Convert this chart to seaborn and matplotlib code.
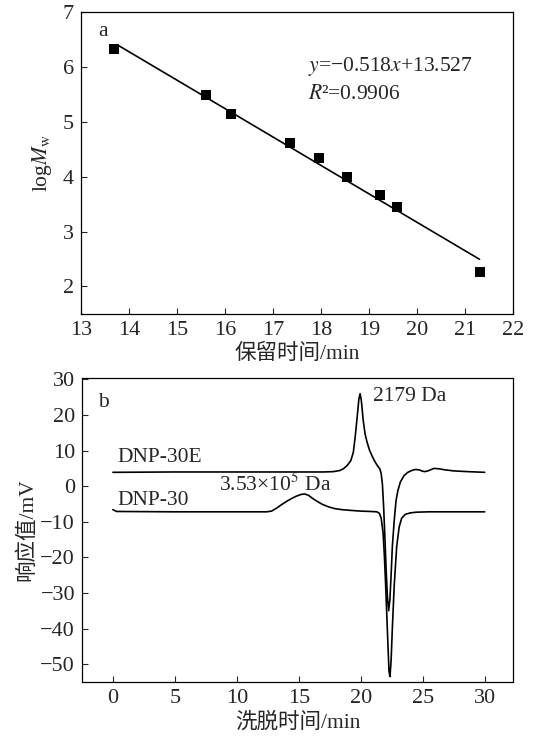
import numpy as np
import pandas as pd
import matplotlib
matplotlib.use("Agg")
import matplotlib.pyplot as plt
import seaborn as sns

sns.set_theme(style="ticks")
plt.rcParams['font.family'] = ['Liberation Serif', 'Noto Sans CJK SC']
plt.rcParams['mathtext.fontset'] = 'stix'
plt.rcParams['axes.unicode_minus'] = True

# Panel a: calibration
ret_time = [13.70, 15.60, 16.12, 17.35, 17.95, 18.55, 19.22, 19.58, 21.30]
log_mw = [6.32, 5.49, 5.14, 4.62, 4.34, 4.00, 3.67, 3.44, 2.26]
slope, intercept = -0.518, 13.527
fit_x = [13.75, 21.30]

# Panel b: chromatograms
t_30e = [0, 5, 10, 15, 17.0, 17.8, 18.3, 18.6, 18.9, 19.2, 19.4, 19.55, 19.7, 19.85, 19.95,
         20.05, 20.2, 20.35, 20.5, 20.7, 20.9, 21.1, 21.3, 21.45, 21.55, 21.65, 21.75, 21.85,
         21.95, 22.05, 22.15, 22.25, 22.35, 22.45, 22.55, 22.7, 22.85, 23.0, 23.2, 23.5, 23.8,
         24.1, 24.4, 24.7, 25.0, 25.2, 25.5, 25.9, 26.3, 26.8, 27.5, 28.6, 30]
v_30e = [3.9, 4.0, 4.0, 4.0, 4.0, 4.1, 4.4, 4.9, 5.8, 7.2, 9.5, 13.8, 19.0, 24.5, 26.0,
         24.0, 18.5, 14.7, 12.5, 10.2, 8.6, 7.2, 6.0, 5.3, 4.8, 3.5, 0.5, -6.0,
         -14.5, -23.5, -31.0, -35.0, -32.0, -25.0, -17.0, -9.7, -4.0, -1.2, 1.2, 3.0, 3.9,
         4.4, 4.7, 4.6, 4.2, 4.1, 4.4, 5.0, 4.9, 4.6, 4.3, 4.1, 3.9]

t_30 = [0, 0.3, 5, 10, 12.4, 12.8, 13.2, 13.6, 14.0, 14.4, 14.8, 15.2, 15.5, 15.8, 16.1, 16.5,
        16.9, 17.4, 17.9, 18.5, 19.2, 20.0, 20.8, 21.3, 21.5, 21.65, 21.8, 21.9, 22.0, 22.1,
        22.2, 22.28, 22.36, 22.45, 22.55, 22.7, 22.9, 23.1, 23.3, 23.6, 24.0, 24.5, 25.5, 27, 30]
v_30 = [-6.6, -7.1, -7.2, -7.2, -7.2, -7.0, -6.2, -5.2, -4.3, -3.5, -2.8, -2.3, -2.2, -2.6,
        -3.4, -4.3, -5.1, -5.8, -6.3, -6.6, -6.8, -7.0, -7.1, -7.2, -7.6, -9.0, -13.0, -19.0,
        -27.0, -36.0, -45.0, -52.0, -53.5, -49.0, -40.0, -28.0, -17.0, -11.5, -9.0, -7.9, -7.5,
        -7.3, -7.2, -7.2, -7.2]

df_a = pd.DataFrame({"t": ret_time, "y": log_mw})
df_fit = pd.DataFrame({"t": fit_x, "y": [slope * x + intercept for x in fit_x]})
df_e = pd.DataFrame({"t": t_30e, "v": v_30e})
df_n = pd.DataFrame({"t": t_30, "v": v_30})

fig = plt.figure(figsize=(5.5, 7.42), dpi=100)
ax1 = fig.add_axes([0.147, 0.577, 0.786, 0.407])
ax2 = fig.add_axes([0.149, 0.081, 0.784, 0.410])

lw = 1.2
tick_fs = 16
lab_fs = 15.5
txt_fs = 15.5

# Panel a
sns.lineplot(data=df_fit, x="t", y="y", ax=ax1, color="black", linewidth=lw)
sns.scatterplot(data=df_a, x="t", y="y", ax=ax1, marker="s", s=60, color="black",
                edgecolor="black", linewidth=0, zorder=3)
ax1.set_xlim(13, 22)
ax1.set_ylim(1.5, 7)
ax1.set_xticks(range(13, 23))
ax1.set_yticks(range(2, 8))
ax1.set_xlabel("保留时间/min", fontsize=lab_fs, labelpad=3)
ax1.set_ylabel(r"log$\mathit{M}_{\rm w}$", fontsize=lab_fs, labelpad=6)
ax1.text(0.04, 0.934, "a", transform=ax1.transAxes, fontsize=txt_fs, va="center", ha="left")
ax1.text(0.525, 0.818, r"$\mathit{y}$=−0.518$\mathit{x}$+13.527", transform=ax1.transAxes,
         fontsize=txt_fs, va="center", ha="left")
ax1.text(0.525, 0.725, r"$\mathit{R}$²=0.9906", transform=ax1.transAxes,
         fontsize=txt_fs, va="center", ha="left")

# Panel b
sns.lineplot(data=df_e, x="t", y="v", ax=ax2, color="black", linewidth=lw, sort=False)
sns.lineplot(data=df_n, x="t", y="v", ax=ax2, color="black", linewidth=lw, sort=False)
ax2.set_xlim(-2.5, 32.3)
ax2.set_ylim(-55, 30.5)
ax2.set_xticks(range(0, 31, 5))
ax2.set_yticks(range(-50, 31, 10))
ax2.set_xlabel("洗脱时间/min", fontsize=lab_fs, labelpad=3)
ax2.set_ylabel("响应值/mV", fontsize=lab_fs, labelpad=2)
ax2.text(0.037, 0.92, "b", transform=ax2.transAxes, fontsize=txt_fs, va="center", ha="left")
ax2.text(0.4, 8.0, "DNP-30E", fontsize=txt_fs, va="center", ha="left")
ax2.text(0.4, -4.0, "DNP-30", fontsize=txt_fs, va="center", ha="left")
ax2.text(8.6, 0.3, r"3.53×10$^{5}$ Da", fontsize=txt_fs, va="center", ha="left")
ax2.text(21.0, 25.2, "2179 Da", fontsize=txt_fs, va="center", ha="left")

for ax in (ax1, ax2):
    ax.tick_params(direction="in", length=4, width=0.8, labelsize=tick_fs,
                   top=False, right=False, pad=5)
    for s in ax.spines.values():
        s.set_linewidth(0.9)
        s.set_color("black")
        s.set_visible(True)

fig.savefig("out.png", dpi=100)
